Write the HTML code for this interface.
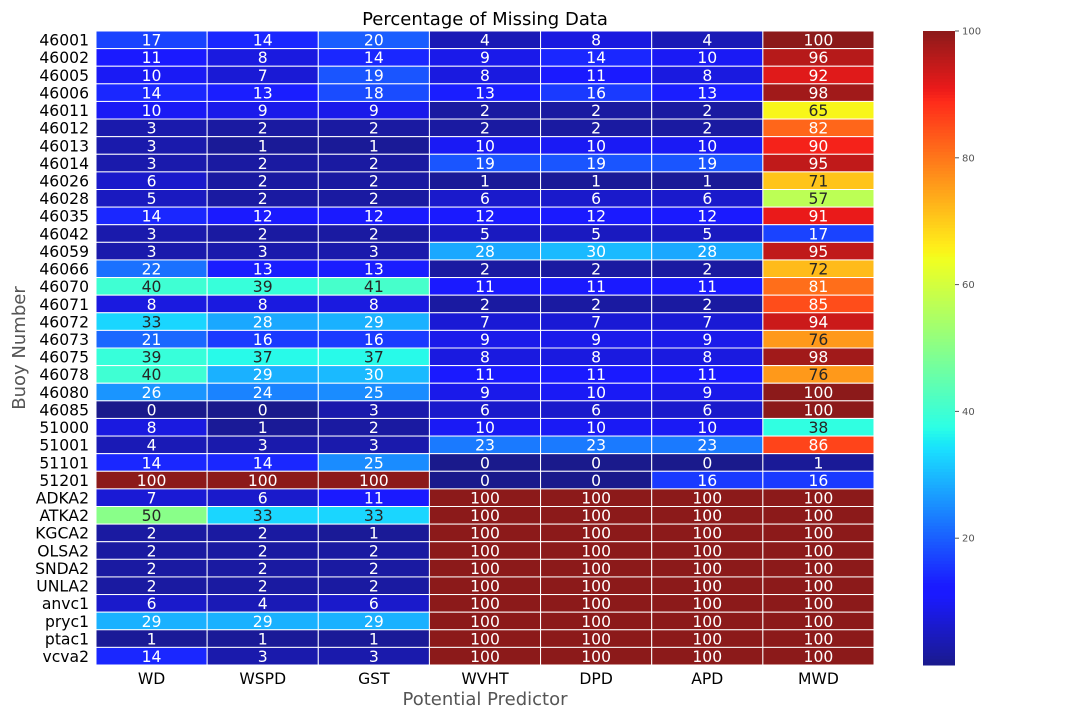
<!DOCTYPE html>
<html><head><meta charset="utf-8"><style>
body{margin:0;background:#fff;font-family:"Liberation Sans","DejaVu Sans",sans-serif;}
svg text{font-family:"DejaVu Sans","Liberation Sans",sans-serif;}
</style></head><body>
<svg id="chart" width="1080" height="720" xmlns="http://www.w3.org/2000/svg">
<text x="485" y="25" font-size="18" text-anchor="middle" fill="#000">Percentage of Missing Data</text>
<text x="0" y="0" font-size="18" fill="#555" text-anchor="middle" transform="translate(25,348) rotate(-90)">Buoy Number</text>
<text x="485" y="705" font-size="18" fill="#555" text-anchor="middle">Potential Predictor</text>
<g id="cells"></g><g id="ylabels"></g><g id="xlabels"></g><g id="cbar"></g>
</svg>
<script>
const buoys=["46001","46002","46005","46006","46011","46012","46013","46014","46026","46028","46035","46042","46059","46066","46070","46071","46072","46073","46075","46078","46080","46085","51000","51001","51101","51201","ADKA2","ATKA2","KGCA2","OLSA2","SNDA2","UNLA2","anvc1","pryc1","ptac1","vcva2"];
const predictors=["WD","WSPD","GST","WVHT","DPD","APD","MWD"];
const colWD=[17,11,10,14,10,3,3,3,6,5,14,3,3,22,40,8,33,21,39,40,26,0,8,4,14,100,7,50,2,2,2,2,6,29,1,14];
const colWSPD=[14,8,7,13,9,2,1,2,2,2,12,2,3,13,39,8,28,16,37,29,24,0,1,3,14,100,6,33,2,2,2,2,4,29,1,3];
const colGST=[20,14,19,18,9,2,1,2,2,2,12,2,3,13,41,8,29,16,37,30,25,3,2,3,25,100,11,33,1,2,2,2,6,29,1,3];
const colWVHT=[4,9,8,13,2,2,10,19,1,6,12,5,28,2,11,2,7,9,8,11,9,6,10,23,0,0,100,100,100,100,100,100,100,100,100,100];
const colDPD=[8,14,11,16,2,2,10,19,1,6,12,5,30,2,11,2,7,9,8,11,10,6,10,23,0,0,100,100,100,100,100,100,100,100,100,100];
const colAPD=[4,10,8,13,2,2,10,19,1,6,12,5,28,2,11,2,7,9,8,11,9,6,10,23,0,16,100,100,100,100,100,100,100,100,100,100];
const colMWD=[100,96,92,98,65,82,90,95,71,57,91,17,95,72,81,85,94,76,98,76,100,100,38,86,1,16,100,100,100,100,100,100,100,100,100,100];
const cbTicks=[20,40,60,80,100];
const columns=[colWD,colWSPD,colGST,colWVHT,colDPD,colAPD,colMWD];

const X0=96,X1=874,Y0=31,Y1=665,VMIN=0,VMAX=100;
const cw=(X1-X0)/predictors.length, rh=(Y1-Y0)/buoys.length;
function interp(pts,t){for(let i=1;i<pts.length;i++){if(t<=pts[i][0]){const a=pts[i-1],b=pts[i];return a[1]+(b[1]-a[1])*(t-a[0])/(b[0]-a[0]);}}return pts[pts.length-1][1];}
const R=[[0,0],[0.35,0],[0.66,1],[0.89,1],[1,0.5]],G=[[0,0],[0.125,0],[0.375,1],[0.64,1],[0.91,0],[1,0]],B=[[0,0.5],[0.11,1],[0.34,1],[0.65,0],[1,0]];
function jet(v){const t=Math.max(0,Math.min(1,(v-VMIN)/(VMAX-VMIN)));return [interp(R,t),interp(G,t),interp(B,t)];}
function col(v){const c=jet(v).map(x=>Math.round((0.9*x+0.1)*255));return `rgb(${c[0]},${c[1]},${c[2]})`;}
function lum(v){const c=jet(v).map(x=>x<=0.03928?x/12.92:Math.pow((x+0.055)/1.055,2.4));return 0.2126*c[0]+0.7152*c[1]+0.0722*c[2];}
const NS="http://www.w3.org/2000/svg";
function mk(tag,attrs,parent){const e=document.createElementNS(NS,tag);for(const k in attrs)e.setAttribute(k,attrs[k]);parent.appendChild(e);return e;}
const xs=i=>X0+i*cw, ys=j=>Y0+j*rh;
const cells=document.getElementById('cells');
columns.forEach((arr,i)=>{arr.forEach((v,j)=>{
  const r=mk('rect',{x:xs(i),y:ys(j),width:cw,height:rh,fill:col(v),stroke:'#fff','stroke-width':1},cells);
  
  
  const t=mk('text',{x:xs(i)+cw/2,y:ys(j)+rh/2+5.8,'font-size':15.6,'text-anchor':'middle',fill:lum(v)>0.40?'#262626':'#fff'},cells);
  t.textContent=v;
  
  
});});
const yl=document.getElementById('ylabels');
buoys.forEach((b,j)=>{
  const t=mk('text',{x:89,y:ys(j)+rh/2+5.8,'font-size':15.6,'text-anchor':'end',fill:'#000'},yl);t.textContent=b;
  
  
});
const xl=document.getElementById('xlabels');
predictors.forEach((p,i)=>{
  const t=mk('text',{x:xs(i)+cw/2,y:684,'font-size':15.6,'text-anchor':'middle',fill:'#000'},xl);t.textContent=p;
  
  
});
const cb=document.getElementById('cbar');
const CX=923,CW=32,n=200;
const cy=v=>Y1-(v-VMIN)/(VMAX-VMIN)*(Y1-Y0);
for(let k=0;k<n;k++){const v=VMIN+(k+0.5)*(VMAX-VMIN)/n;
  const r=mk('rect',{x:CX,y:cy(VMIN+(k+1)*(VMAX-VMIN)/n),width:CW,height:(Y1-Y0)/n+0.5,fill:col(v)},cb);
  
  
}
cbTicks.forEach(v=>{
  mk('line',{x1:CX+CW,x2:CX+CW+4,y1:cy(v),y2:cy(v),stroke:'#555','stroke-width':1},cb);
  const t=mk('text',{x:CX+CW+7,y:cy(v)+3.5,'font-size':10,fill:'#555'},cb);t.textContent=v;
  
  
});
</script>
</body></html>
